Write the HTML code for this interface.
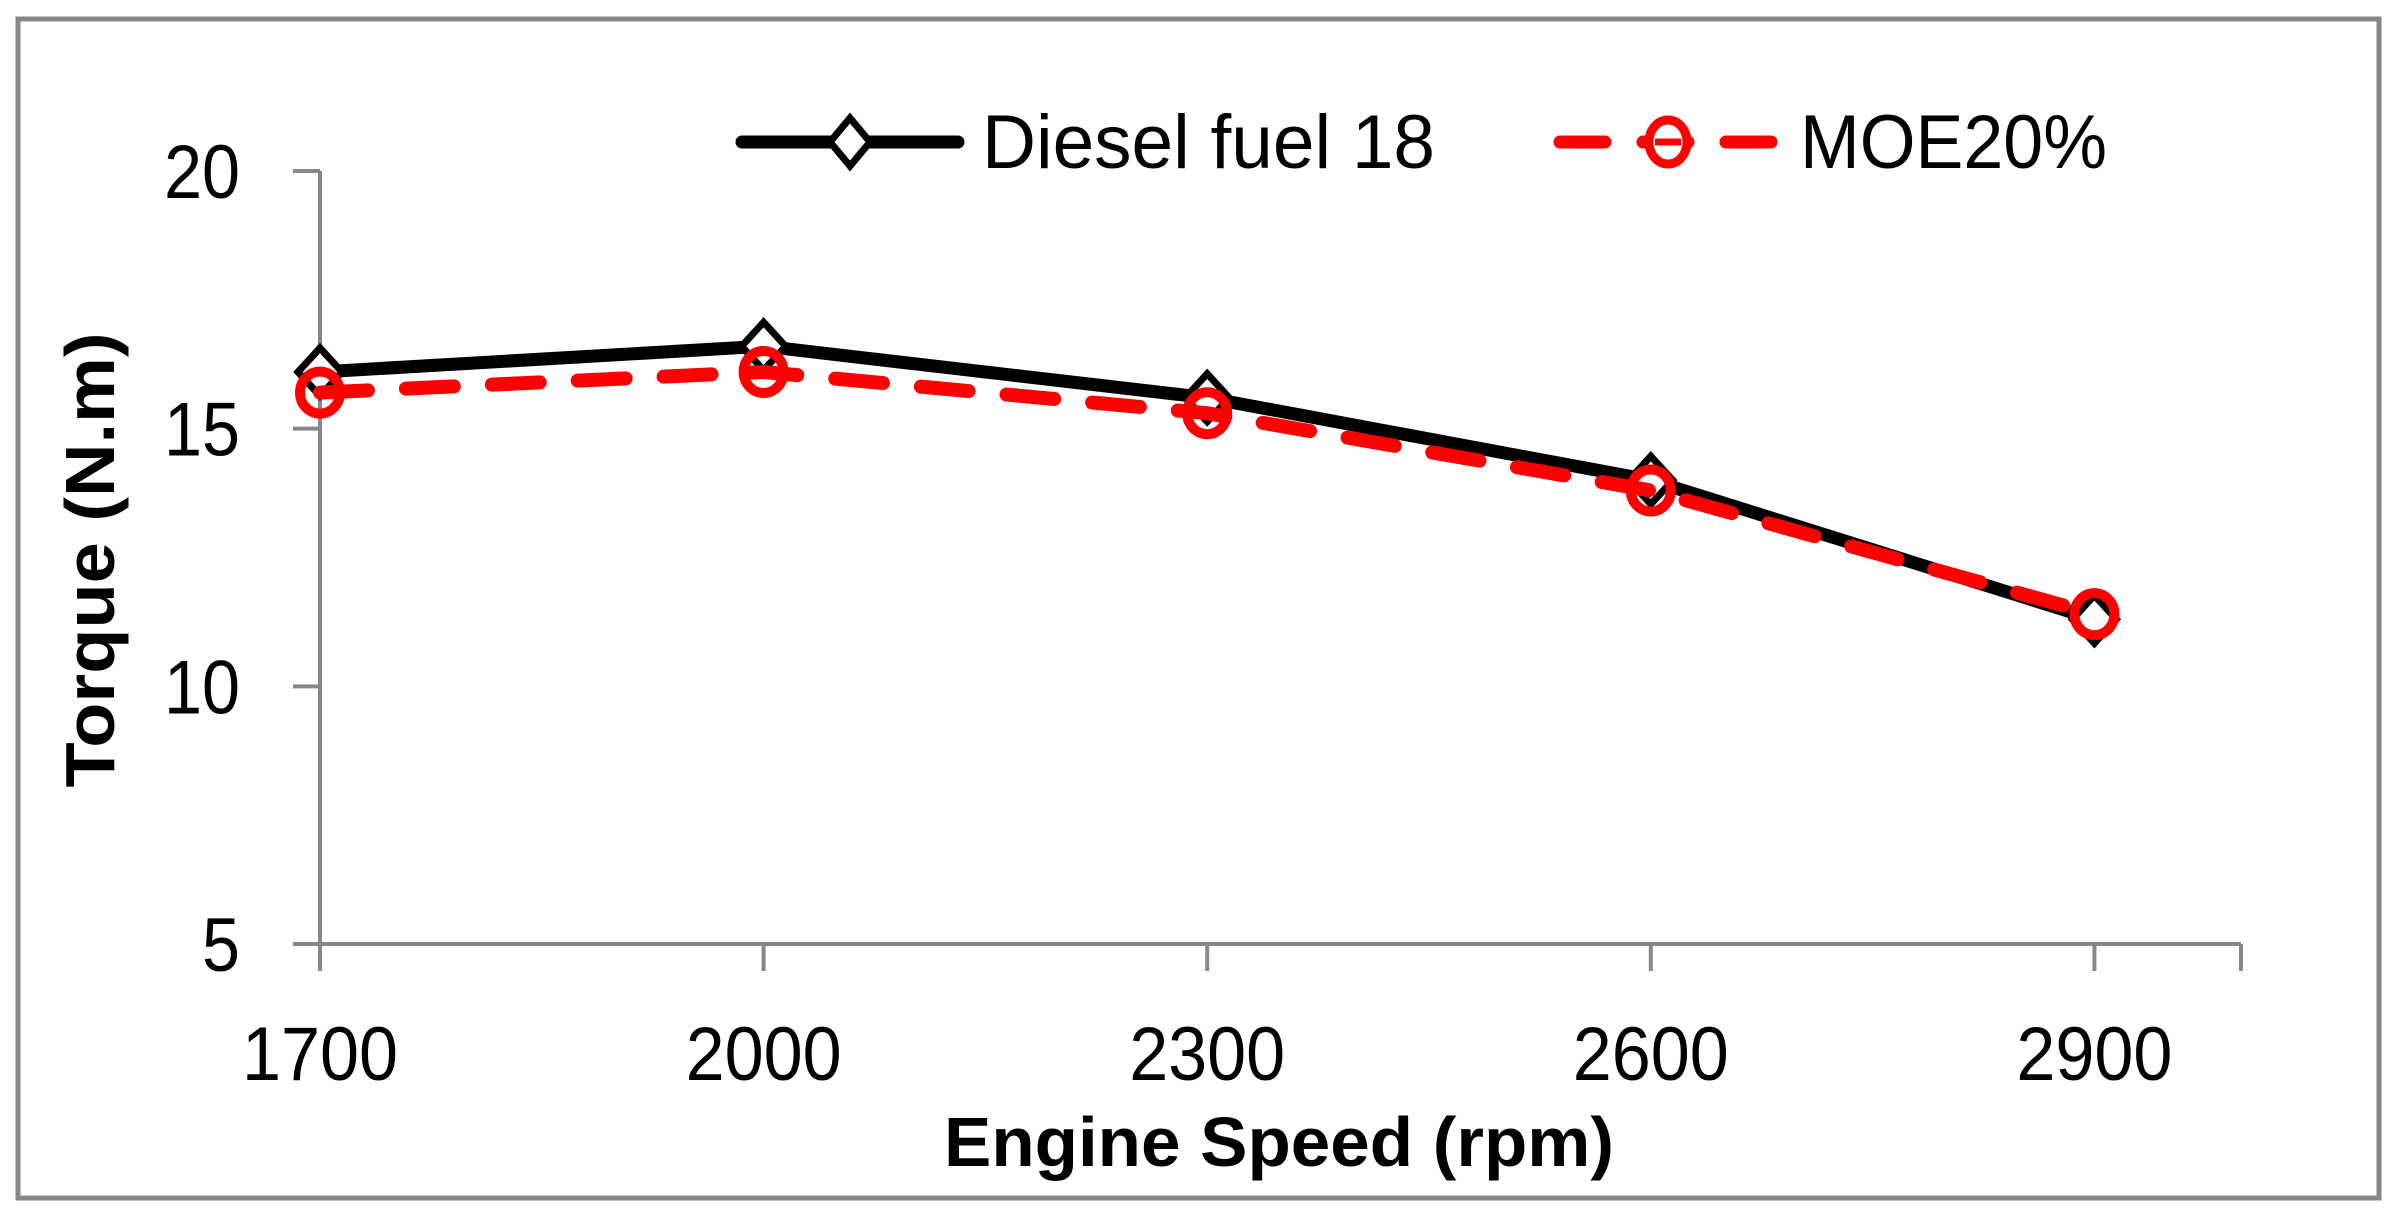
<!DOCTYPE html>
<html><head><meta charset="utf-8"><style>html,body{margin:0;padding:0;background:#fff}svg{display:block}</style></head>
<body>
<svg id="chart" width="2399" height="1217" viewBox="0 0 2399 1217" xmlns="http://www.w3.org/2000/svg" font-family="'Liberation Sans', sans-serif">
<rect x="18" y="19" width="2361" height="1179" fill="#fff" stroke="#878787" stroke-width="5"/>
<g id="axes"></g>
<g id="series"></g>
<g>
  <line x1="742" y1="142" x2="958" y2="142" stroke="#000" stroke-width="13" stroke-linecap="round"/>
  <polygon points="850,118 870,142 850,166 830,142" fill="#fff" stroke="#000" stroke-width="7"/>
  <text x="982" y="168" font-size="76" textLength="453" lengthAdjust="spacingAndGlyphs">Diesel fuel 18</text>
  <line x1="1560" y1="142" x2="1777" y2="142" stroke="#f00" stroke-width="13" stroke-dasharray="45,38" stroke-linecap="round"/>
  <ellipse cx="1668" cy="142" rx="19" ry="22" fill="#fff" stroke="#f00" stroke-width="9"/>
  <line x1="1655" y1="142" x2="1681" y2="142" stroke="#f00" stroke-width="7"/>
  <text x="1800" y="168" font-size="76" textLength="307" lengthAdjust="spacingAndGlyphs">MOE20%</text>
</g>
<text x="1279" y="1166" font-size="70" font-weight="bold" text-anchor="middle" textLength="670" lengthAdjust="spacingAndGlyphs">Engine Speed (rpm)</text>
<text transform="translate(114,560) rotate(-90)" font-size="70" font-weight="bold" text-anchor="middle" textLength="455" lengthAdjust="spacingAndGlyphs">Torque (N.m)</text>
</svg>
<script>
const categories = [1700, 2000, 2300, 2600, 2900];
const dieselValues = [16.1, 16.6, 15.6, 14.0, 11.3];
const moeValues = [15.7, 16.1, 15.3, 13.8, 11.4];
const yTicks = [5, 10, 15, 20];

const NS = 'http://www.w3.org/2000/svg';
const x0 = 320, xStep = 443.6, xEnd = 2241;
const yTop = 171, yBot = 944, yMin = 5, yMax = 20;
function xPos(i){ return x0 + i * xStep; }
function yPos(v){ return yBot - (v - yMin) / (yMax - yMin) * (yBot - yTop); }
function mk(tag, attrs, parent){ const e = document.createElementNS(NS, tag); for (const k in attrs) e.setAttribute(k, attrs[k]); parent.appendChild(e); return e; }

const axes = document.getElementById('axes');
let el = mk('line', {x1:x0, y1:yTop, x2:x0, y2:yBot, stroke:'#878787', 'stroke-width':4}, axes);


el = mk('line', {x1:x0, y1:yBot, x2:xEnd, y2:yBot, stroke:'#878787', 'stroke-width':4}, axes);


yTicks.forEach(v => {
  const y = yPos(v);
  let t = mk('line', {x1:x0 - 27, y1:y, x2:x0, y2:y, stroke:'#878787', 'stroke-width':4}, axes);
  
  
  const s = String(v);
  let l = mk('text', {x:240, y:y + 27, 'font-size':76, 'text-anchor':'end', textLength:s.length * 38, lengthAdjust:'spacingAndGlyphs'}, axes);
  l.textContent = s;
  
  
});
categories.forEach((c, i) => {
  const x = xPos(i);
  let t = mk('line', {x1:x, y1:yBot, x2:x, y2:yBot + 27, stroke:'#878787', 'stroke-width':4}, axes);
  
  
  let l = mk('text', {x:x, y:1080, 'font-size':76, 'text-anchor':'middle', textLength:156, lengthAdjust:'spacingAndGlyphs'}, axes);
  l.textContent = String(c);
  
  
});
let t = mk('line', {x1:xEnd, y1:yBot, x2:xEnd, y2:yBot + 27, stroke:'#878787', 'stroke-width':4}, axes);



const series = document.getElementById('series');
const dPts = dieselValues.map((v, i) => xPos(i) + ',' + yPos(v)).join(' ');
let dl = mk('polyline', {points:dPts, fill:'none', stroke:'#000', 'stroke-width':13, 'stroke-linejoin':'round'}, series);


dieselValues.forEach((v, i) => {
  const x = xPos(i), y = yPos(v);
  let m = mk('polygon', {points:`${x},${y-24} ${x+22},${y} ${x},${y+24} ${x-22},${y}`, fill:'#fff', stroke:'#000', 'stroke-width':7}, series);
  
  
});
const mPts = moeValues.map((v, i) => xPos(i) + ',' + yPos(v)).join(' ');
let ml = mk('polyline', {points:mPts, fill:'none', stroke:'#f00', 'stroke-width':14, 'stroke-dasharray':'48,38', 'stroke-linecap':'round'}, series);


moeValues.forEach((v, i) => {
  let m = mk('ellipse', {cx:xPos(i), cy:yPos(v), rx:20, ry:21, fill:'none', stroke:'#f00', 'stroke-width':10}, series);
  
  
});
</script>
</body></html>
